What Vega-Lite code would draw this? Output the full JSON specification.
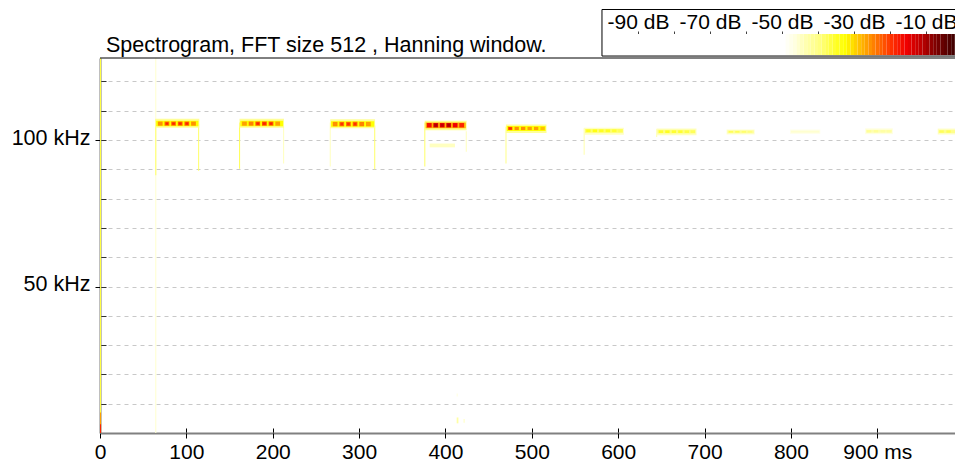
{
  "$schema": "https://vega.github.io/schema/vega-lite/v6.json",
  "autosize": {"type": "pad"},
  "padding": {"left": 11, "top": 9, "right": 0, "bottom": 0},
  "background": "white",
  "spacing": 0,
  "bounds": "flush",
  "config": {
    "view": {"stroke": null},
    "font": "Liberation Sans",
    "axis": {"labelFont": "Liberation Sans", "labelColor": "black", "tickColor": "black", "domainColor": "#808080"}
  },
  "datasets": {
    "bar": [
      {"db": -100, "db2": -50},
      {"db": -50, "db2": -49}, {"db": -49, "db2": -48}, {"db": -48, "db2": -47}, {"db": -47, "db2": -46},
      {"db": -46, "db2": -45}, {"db": -45, "db2": -44}, {"db": -44, "db2": -43}, {"db": -43, "db2": -42},
      {"db": -42, "db2": -41}, {"db": -41, "db2": -40}, {"db": -40, "db2": -39}, {"db": -39, "db2": -38},
      {"db": -38, "db2": -37}, {"db": -37, "db2": -36}, {"db": -36, "db2": -35}, {"db": -35, "db2": -34},
      {"db": -34, "db2": -33}, {"db": -33, "db2": -32}, {"db": -32, "db2": -31}, {"db": -31, "db2": -30},
      {"db": -30, "db2": -29}, {"db": -29, "db2": -28}, {"db": -28, "db2": -27}, {"db": -27, "db2": -26},
      {"db": -26, "db2": -25}, {"db": -25, "db2": -24}, {"db": -24, "db2": -23}, {"db": -23, "db2": -22},
      {"db": -22, "db2": -21}, {"db": -21, "db2": -20}, {"db": -20, "db2": -19}, {"db": -19, "db2": -18},
      {"db": -18, "db2": -17}, {"db": -17, "db2": -16}, {"db": -16, "db2": -15}, {"db": -15, "db2": -14},
      {"db": -14, "db2": -13}, {"db": -13, "db2": -12}, {"db": -12, "db2": -11}, {"db": -11, "db2": -10},
      {"db": -10, "db2": -9}, {"db": -9, "db2": -8}, {"db": -8, "db2": -7}, {"db": -7, "db2": -6},
      {"db": -6, "db2": -5}, {"db": -5, "db2": -4}, {"db": -4, "db2": -3}, {"db": -3, "db2": -2},
      {"db": -2, "db2": -1}
    ],
    "spec": [
      {"t": 0, "t2": 1.2, "f": 0, "f2": 128, "db": -37},
      {"t": 0, "t2": 1.2, "f": 0, "f2": 7, "db": -27},
      {"t": 0, "t2": 1.2, "f": 0, "f2": 3, "db": -19},
      {"t": 64, "t2": 65.2, "f": 0, "f2": 128, "db": -46},
      {"t": 64, "t2": 65.2, "f": 88, "f2": 107, "db": -39},
      {"t": 113.6, "t2": 114.8, "f": 89.5, "f2": 105.5, "db": -39},
      {"t": 161, "t2": 162.2, "f": 90.2, "f2": 106, "db": -38},
      {"t": 212, "t2": 213.2, "f": 92, "f2": 105, "db": -45},
      {"t": 266, "t2": 267.2, "f": 91, "f2": 106, "db": -45},
      {"t": 317.5, "t2": 318.7, "f": 90, "f2": 105, "db": -39},
      {"t": 375.5, "t2": 376.7, "f": 91, "f2": 106, "db": -39},
      {"t": 423.5, "t2": 424.7, "f": 96, "f2": 103, "db": -45},
      {"t": 469.5, "t2": 470.7, "f": 92, "f2": 104.5, "db": -41},
      {"t": 560, "t2": 561.2, "f": 95, "f2": 104, "db": -44},
      {"t": 644, "t2": 645.2, "f": 101, "f2": 103.7, "db": -44},
      {"t": 381.7, "t2": 411, "f": 97.5, "f2": 98.8, "db": -45},
      {"t": 413, "t2": 415, "f": 3.3, "f2": 5.3, "db": -43},
      {"t": 421, "t2": 422.2, "f": 3.5, "f2": 4.8, "db": -45},
      {"t": 413, "t2": 414.2, "f": 12.5, "f2": 13.5, "db": -47},
      {"t": 64, "t2": 115, "f": 104.2, "f2": 107.3, "db": -42},
      {"t": 161.5, "t2": 213, "f": 104.2, "f2": 107.3, "db": -42},
      {"t": 266.6, "t2": 318.5, "f": 104, "f2": 107.1, "db": -42},
      {"t": 376, "t2": 424.5, "f": 103.3, "f2": 106.6, "db": -41},
      {"t": 470, "t2": 517, "f": 102.4, "f2": 105.3, "db": -42},
      {"t": 560.5, "t2": 606.5, "f": 101.8, "f2": 104.2, "db": -45},
      {"t": 644.4, "t2": 690.7, "f": 101.6, "f2": 103.9, "db": -45},
      {"t": 725.5, "t2": 758, "f": 101.9, "f2": 103.6, "db": -46},
      {"t": 799, "t2": 834, "f": 102.1, "f2": 103.6, "db": -48},
      {"t": 886, "t2": 918, "f": 102, "f2": 104, "db": -47},
      {"t": 970, "t2": 990, "f": 101.9, "f2": 103.9, "db": -45},
      {"t": 65, "t2": 114, "f": 104.7, "f2": 106.6, "db": -33},
      {"t": 162.5, "t2": 212, "f": 104.7, "f2": 106.6, "db": -33},
      {"t": 267.5, "t2": 317.5, "f": 104.5, "f2": 106.4, "db": -33},
      {"t": 377, "t2": 423.5, "f": 104, "f2": 106, "db": -28},
      {"t": 471, "t2": 516, "f": 103.1, "f2": 104.8, "db": -33},
      {"t": 561.5, "t2": 605.5, "f": 102.5, "f2": 103.8, "db": -39},
      {"t": 645.5, "t2": 689.5, "f": 102.2, "f2": 103.5, "db": -40},
      {"t": 726.5, "t2": 757, "f": 102.3, "f2": 103.3, "db": -42},
      {"t": 800, "t2": 833, "f": 102.5, "f2": 103.2, "db": -46},
      {"t": 887, "t2": 917, "f": 102.5, "f2": 103.5, "db": -44},
      {"t": 971, "t2": 990, "f": 102.4, "f2": 103.4, "db": -41},
      {"t": 67, "t2": 72.5, "f": 104.9, "f2": 106.3, "db": -26},
      {"t": 74.7, "t2": 80.2, "f": 104.9, "f2": 106.3, "db": -24},
      {"t": 82.4, "t2": 87.9, "f": 104.9, "f2": 106.3, "db": -24},
      {"t": 90.1, "t2": 95.6, "f": 104.9, "f2": 106.3, "db": -23},
      {"t": 97.8, "t2": 103.3, "f": 104.9, "f2": 106.3, "db": -23},
      {"t": 105.5, "t2": 111, "f": 104.9, "f2": 106.3, "db": -26},
      {"t": 164.5, "t2": 170, "f": 104.9, "f2": 106.3, "db": -27},
      {"t": 172.2, "t2": 177.7, "f": 104.9, "f2": 106.3, "db": -25},
      {"t": 179.9, "t2": 185.4, "f": 104.9, "f2": 106.3, "db": -23},
      {"t": 187.6, "t2": 193.1, "f": 104.9, "f2": 106.3, "db": -22},
      {"t": 195.3, "t2": 200.8, "f": 104.9, "f2": 106.3, "db": -23},
      {"t": 203, "t2": 208.5, "f": 104.9, "f2": 106.3, "db": -27},
      {"t": 269.5, "t2": 275, "f": 104.7, "f2": 106.2, "db": -26},
      {"t": 277.2, "t2": 282.7, "f": 104.7, "f2": 106.2, "db": -24},
      {"t": 284.9, "t2": 290.4, "f": 104.7, "f2": 106.2, "db": -24},
      {"t": 292.6, "t2": 298.1, "f": 104.7, "f2": 106.2, "db": -24},
      {"t": 300.3, "t2": 305.8, "f": 104.7, "f2": 106.2, "db": -25},
      {"t": 308, "t2": 313.5, "f": 104.7, "f2": 106.2, "db": -27},
      {"t": 378.5, "t2": 384, "f": 104.3, "f2": 105.8, "db": -17},
      {"t": 386, "t2": 391.5, "f": 104.3, "f2": 105.8, "db": -14},
      {"t": 393.5, "t2": 399, "f": 104.3, "f2": 105.8, "db": -15},
      {"t": 401, "t2": 406.5, "f": 104.3, "f2": 105.8, "db": -14},
      {"t": 408.5, "t2": 414, "f": 104.3, "f2": 105.8, "db": -16},
      {"t": 416, "t2": 421.5, "f": 104.3, "f2": 105.8, "db": -19},
      {"t": 472.5, "t2": 477.5, "f": 103.4, "f2": 104.5, "db": -23},
      {"t": 480, "t2": 485, "f": 103.4, "f2": 104.5, "db": -26},
      {"t": 487.5, "t2": 492.5, "f": 103.4, "f2": 104.5, "db": -26},
      {"t": 495, "t2": 500, "f": 103.4, "f2": 104.5, "db": -27},
      {"t": 502.5, "t2": 507.5, "f": 103.4, "f2": 104.5, "db": -27},
      {"t": 510, "t2": 515, "f": 103.4, "f2": 104.5, "db": -29},
      {"t": 563, "t2": 568, "f": 102.7, "f2": 103.6, "db": -35},
      {"t": 570.5, "t2": 575.5, "f": 102.7, "f2": 103.6, "db": -34},
      {"t": 578, "t2": 583, "f": 102.7, "f2": 103.6, "db": -35},
      {"t": 585.5, "t2": 590.5, "f": 102.7, "f2": 103.6, "db": -35},
      {"t": 593, "t2": 598, "f": 102.7, "f2": 103.6, "db": -36},
      {"t": 600, "t2": 605, "f": 102.7, "f2": 103.6, "db": -38},
      {"t": 647, "t2": 652, "f": 102.4, "f2": 103.3, "db": -36},
      {"t": 654.5, "t2": 659.5, "f": 102.4, "f2": 103.3, "db": -35},
      {"t": 662, "t2": 667, "f": 102.4, "f2": 103.3, "db": -36},
      {"t": 669.5, "t2": 674.5, "f": 102.4, "f2": 103.3, "db": -36},
      {"t": 677, "t2": 682, "f": 102.4, "f2": 103.3, "db": -37},
      {"t": 684, "t2": 689, "f": 102.4, "f2": 103.3, "db": -38},
      {"t": 728, "t2": 733, "f": 102.5, "f2": 103.1, "db": -38},
      {"t": 735.5, "t2": 740.5, "f": 102.5, "f2": 103.1, "db": -38},
      {"t": 743, "t2": 748, "f": 102.5, "f2": 103.1, "db": -39},
      {"t": 750, "t2": 755, "f": 102.5, "f2": 103.1, "db": -40},
      {"t": 888, "t2": 893, "f": 102.6, "f2": 103.4, "db": -42},
      {"t": 896, "t2": 901, "f": 102.6, "f2": 103.4, "db": -42},
      {"t": 904, "t2": 909, "f": 102.6, "f2": 103.4, "db": -43},
      {"t": 911, "t2": 916, "f": 102.6, "f2": 103.4, "db": -43},
      {"t": 972, "t2": 977, "f": 102.5, "f2": 103.3, "db": -38},
      {"t": 980, "t2": 985, "f": 102.5, "f2": 103.3, "db": -38},
      {"t": 75.9, "t2": 79, "f": 105.2, "f2": 106, "db": -19},
      {"t": 83.6, "t2": 86.7, "f": 105.2, "f2": 106, "db": -19},
      {"t": 91.3, "t2": 94.4, "f": 105.2, "f2": 106, "db": -19},
      {"t": 99, "t2": 102.1, "f": 105.2, "f2": 106, "db": -19},
      {"t": 181.1, "t2": 184.2, "f": 105.2, "f2": 106, "db": -19},
      {"t": 188.8, "t2": 191.9, "f": 105.2, "f2": 106, "db": -19},
      {"t": 196.5, "t2": 199.6, "f": 105.2, "f2": 106, "db": -19},
      {"t": 278.4, "t2": 281.5, "f": 105, "f2": 105.9, "db": -20},
      {"t": 286.1, "t2": 289.2, "f": 105, "f2": 105.9, "db": -20},
      {"t": 293.8, "t2": 296.9, "f": 105, "f2": 105.9, "db": -20},
      {"t": 387.2, "t2": 390.3, "f": 104.6, "f2": 105.5, "db": -11},
      {"t": 394.7, "t2": 397.8, "f": 104.6, "f2": 105.5, "db": -12},
      {"t": 402.2, "t2": 405.3, "f": 104.6, "f2": 105.5, "db": -11},
      {"t": 473.7, "t2": 476.8, "f": 103.6, "f2": 104.3, "db": -20}
    ]
  },
  "resolve": {"scale": {"color": "shared"}},
  "vconcat": [
    {
      "width": 855,
      "height": 49,
      "layer": [
        {
          "data": {"name": "bar"},
          "mark": {"type": "rect", "clip": true},
          "encoding": {
            "x": {
              "field": "db", "type": "quantitative",
              "scale": {"domain": [-239.44, -1.94], "nice": false, "zero": false},
              "axis": {
                "orient": "top", "offset": -25,
                "values": [-90, -80, -70, -60, -50, -40, -30, -20, -10],
                "tickSize": 3, "tickColor": "#404040",
                "domain": false, "grid": false, "title": null,
                "labelExpr": "datum.value % 20 === -10 ? datum.value + ' dB' : ''",
                "labelFontSize": 21, "labelPadding": 3, "labelBaseline": "alphabetic",
                "labelOverlap": false, "labelFlush": false, "labelBound": false
              }
            },
            "x2": {"field": "db2"},
            "y": {"datum": 0.06, "type": "quantitative", "scale": {"domain": [0, 1], "nice": false, "zero": false}, "axis": null},
            "y2": {"datum": 0.49},
            "color": {
              "field": "db", "type": "quantitative", "legend": null,
              "scale": {
                "type": "linear",
                "domain": [-100, -50, -47, -44, -40, -36, -33, -30, -27, -24, -20, -16, -12, -8, -4, 0],
                "range": ["#ffffff", "#ffffff", "#ffffe0", "#ffffb0", "#ffff80", "#ffff30", "#ffff00", "#ffd000", "#ffa000", "#ff7000", "#ff3000", "#f00000", "#c00000", "#800000", "#500000", "#200000"],
                "interpolate": "rgb", "clamp": true
              }
            }
          }
        },
        {
          "data": {"values": [{}]},
          "mark": {"type": "rect", "fill": "transparent", "stroke": "black", "strokeWidth": 1, "clip": true},
          "encoding": {
            "x": {"datum": -100, "type": "quantitative"},
            "x2": {"datum": -1},
            "y": {"datum": 0.04, "type": "quantitative"},
            "y2": {"datum": 0.99}
          }
        }
      ]
    },
    {
      "width": 855,
      "height": 375,
      "title": {
        "text": "Spectrogram, FFT size 512 , Hanning window.",
        "anchor": "start", "frame": "group", "dx": 6, "offset": -16,
        "baseline": "alphabetic", "fontSize": 21.5, "fontWeight": "normal",
        "color": "black", "font": "Liberation Sans"
      },
      "layer": [
        {
          "data": {"name": "spec"},
          "mark": {"type": "rect", "clip": true},
          "encoding": {
            "x": {
              "field": "t", "type": "quantitative",
              "scale": {"domain": [0, 990], "nice": false, "zero": false},
              "axis": {
                "orient": "bottom", "values": [0, 100, 200, 300, 400, 500, 600, 700, 800, 900],
                "tickSize": -5, "labels": false, "grid": false, "domain": true,
                "domainColor": "#808080", "domainWidth": 2, "title": null
              }
            },
            "x2": {"field": "t2"},
            "y": {
              "field": "f", "type": "quantitative",
              "scale": {"domain": [0, 128], "nice": false, "zero": false},
              "axis": {
                "orient": "left", "values": [10, 20, 30, 40, 50, 60, 70, 80, 90, 100, 110, 120],
                "tickSize": -6, "tickColor": "#303030", "labels": false,
                "grid": true, "gridColor": "#c8c8c8", "gridDash": [4, 4],
                "domain": true, "domainColor": "#808080", "domainWidth": 2, "title": null
              }
            },
            "y2": {"field": "f2"},
            "color": {
              "field": "db", "type": "quantitative", "legend": null,
              "scale": {
                "type": "linear",
                "domain": [-100, -50, -47, -44, -40, -36, -33, -30, -27, -24, -20, -16, -12, -8, -4, 0],
                "range": ["#ffffff", "#ffffff", "#ffffe0", "#ffffb0", "#ffff80", "#ffff30", "#ffff00", "#ffd000", "#ffa000", "#ff7000", "#ff3000", "#f00000", "#c00000", "#800000", "#500000", "#200000"],
                "interpolate": "rgb", "clamp": true
              }
            }
          }
        },
        {
          "data": {"values": [{}]},
          "mark": {"type": "rule", "color": "black", "strokeWidth": 1},
          "encoding": {
            "x": {
              "datum": 0, "type": "quantitative",
              "axis": {
                "orient": "bottom", "values": [0, 100, 200, 300, 400, 500, 600, 700, 800, 900],
                "tickSize": 5, "domain": false, "grid": false, "title": null,
                "labelFontSize": 21, "labelPadding": 3,
                "labelExpr": "datum.value === 900 ? '900 ms' : datum.label",
                "labelOverlap": false, "labelFlush": false
              }
            },
            "x2": {"datum": 990},
            "y": {
              "datum": 128, "type": "quantitative",
              "axis": {
                "orient": "left", "values": [50, 100],
                "tickSize": 5, "domain": false, "grid": false, "title": null,
                "labelExpr": "datum.value + ' kHz'",
                "labelFontSize": 21.5, "labelPadding": 5,
                "labelBaseline": "alphabetic", "labelOffset": 4,
                "labelOverlap": false, "labelFlush": false
              }
            }
          }
        }
      ],
      "resolve": {"axis": {"x": "independent", "y": "independent"}}
    }
  ]
}
